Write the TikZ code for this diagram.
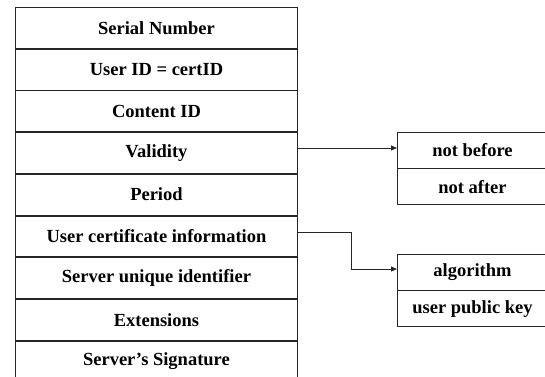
\documentclass[tikz,border=0pt]{standalone}
\usepackage{fontspec}
\setmainfont{Liberation Serif}
\usetikzlibrary{arrows.meta}
\begin{document}
\begin{tikzpicture}[x=1pt,y=-1pt,
  field/.style={draw=black!85, line width=0.9pt, minimum width=282pt, minimum height=40.8pt,
    inner sep=0pt, font=\fontsize{18.5}{20}\selectfont\bfseries, anchor=north west},
  subfield/.style={draw=black!85, line width=0.9pt, minimum width=150pt,
    inner sep=0pt, font=\fontsize{18.5}{20}\selectfont\bfseries, anchor=north west},
  link/.style={draw=black!85, line width=1pt, -{Triangle[length=6pt,width=5pt]}}]
  \useasboundingbox (0,0) rectangle (545,376);
  % certificate fields, top to bottom
  \node[field] (f1) at (15,7) {Serial Number};
  \node[field] (f2) at (f1.south west) {User ID = certID};
  \node[field] (f3) at (f2.south west) {Content ID};
  \node[field] (f4) at (f3.south west) {Validity};
  \node[field] (f5) at (f4.south west) {Period};
  \node[field] (f6) at (f5.south west) {User certificate information};
  \node[field] (f7) at (f6.south west) {Server unique identifier};
  \node[field] (f8) at (f7.south west) {Extensions};
  \node[field] (f9) at (f8.south west) {Server's Signature};
  % validity sub-fields
  \node[subfield, minimum height=35.5pt] (v1) at (397,132) {not before};
  \node[subfield, minimum height=35.5pt] (v2) at (v1.south west) {not after};
  % public key sub-fields
  \node[subfield, minimum height=35.5pt] (k1) at (397,254) {algorithm};
  \node[subfield, minimum height=35.5pt] (k2) at (k1.south west) {user public key};
  % connectors
  \coordinate (bend) at (351,232);
  \draw[link] (f4.east |- 0,148) -- (v1.west |- 0,148);
  \draw[link] (f6.east |- bend) -- (bend) |- (k1.west |- 0,269);
\end{tikzpicture}
\end{document}
